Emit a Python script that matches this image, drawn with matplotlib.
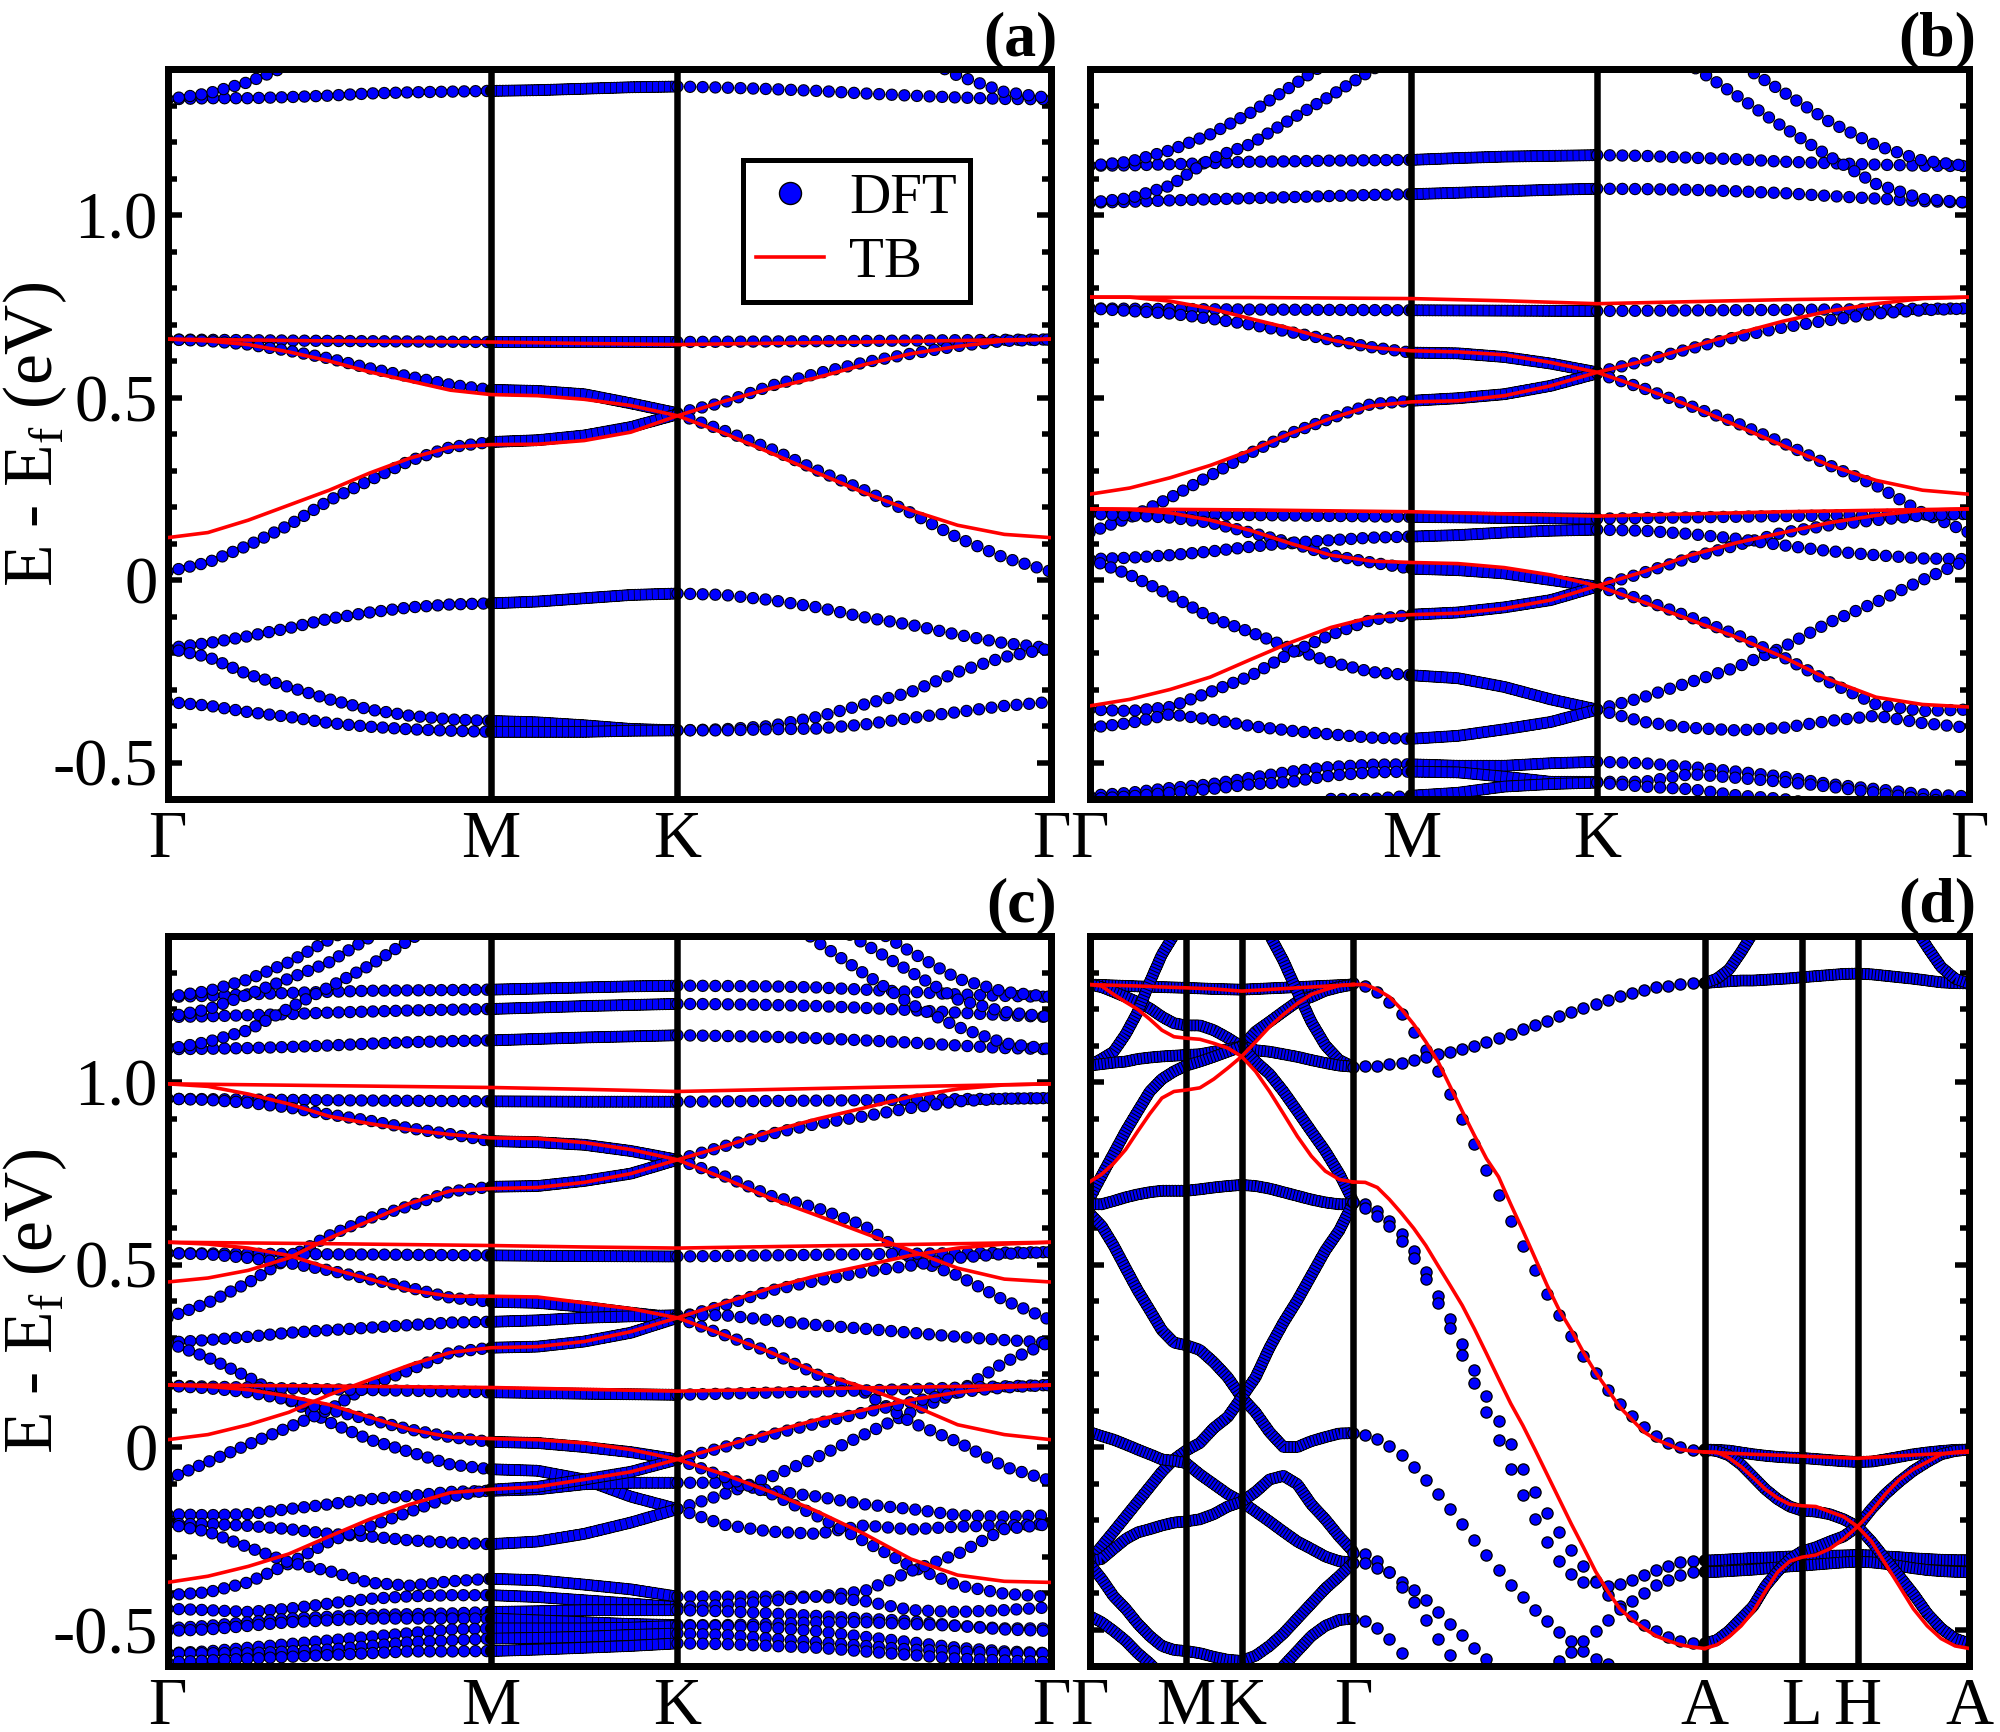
import numpy as np
import matplotlib
matplotlib.use("Agg")
import matplotlib.pyplot as plt
from matplotlib.lines import Line2D
from matplotlib.ticker import MultipleLocator, FixedLocator, FixedFormatter

plt.rcParams['font.family'] = ['Liberation Serif', 'DejaVu Serif']
plt.rcParams['mathtext.fontset'] = 'custom'
plt.rcParams['mathtext.rm'] = 'Liberation Serif'
plt.rcParams['lines.scale_dashes'] = False

# ---------- k-path ----------
K21 = np.concatenate([np.linspace(0, 1, 9), np.linspace(1, 1.577, 5)[1:], np.linspace(1.577, 2.732, 9)[1:]])
FLAT = [0, 4, 8, 10, 12, 16, 20]
L3 = [0, 1, 2, 3, 4, 5]
HEX_TICKS = [0, 1, 1.577, 2.732]
HEX_LABELS = ['Γ', 'M', 'K', 'Γ']
D_TICKS = [0, 1, 1.577, 2.732, 6.376, 7.383, 7.96, 9.115]
D_LABELS = ['Γ', 'M', 'K', 'Γ', 'A', 'L', 'H', 'A']
YT = [-0.5, 0, 0.5, 1.0]
YT_LABELS = ['-0.5', '0', '0.5', '1.0']

# ---------- panel (a) ----------
a_dft = [
 [1.317,1.32,1.32,1.323,1.327,1.333,1.336,1.338,1.34,1.342,1.346,1.35,1.352,1.349,1.345,1.34,1.333,1.327,1.322,1.318,1.317],
 ([0,1,2,3,4],[1.317,1.333,1.364,1.41,1.48]),
 ([17,18,19,20],[1.446,1.382,1.337,1.32]),
 (FLAT,[.659,.655,.652,.652,.652,.655,.659]),
 [.659,.655,.645,.628,.607,.58,.557,.535,.521,.518,.509,.484,.457,.487,.532,.566,.596,.62,.641,.655,.659],
 [.023,.048,.095,.15,.218,.273,.327,.364,.378,.383,.396,.419,.454,.409,.359,.30,.246,.184,.116,.061,.023],
 [-.187,-.173,-.154,-.132,-.106,-.089,-.075,-.067,-.064,-.059,-.05,-.041,-.037,-.041,-.055,-.075,-.102,-.123,-.15,-.173,-.187],
 [-.187,-.211,-.259,-.293,-.327,-.355,-.372,-.382,-.386,-.39,-.398,-.408,-.412,-.409,-.40,-.375,-.341,-.307,-.252,-.211,-.187],
 [-.334,-.344,-.362,-.375,-.392,-.402,-.409,-.413,-.416,-.416,-.416,-.413,-.412,-.412,-.409,-.407,-.396,-.378,-.362,-.345,-.334],
]
a_tb = [
 (FLAT,[.66,.655,.652,.648,.645,.652,.66]),
 [.66,.655,.645,.625,.60,.57,.545,.52,.508,.505,.495,.478,.45,.49,.525,.555,.59,.62,.64,.655,.66],
 [.116,.13,.164,.205,.246,.293,.334,.364,.371,.372,.382,.405,.45,.402,.348,.293,.239,.191,.15,.125,.116],
]

# ---------- panel (b) ----------
b_dft = [
 [1.135,1.136,1.139,1.142,1.146,1.147,1.149,1.15,1.151,1.156,1.16,1.162,1.164,1.162,1.157,1.153,1.146,1.142,1.138,1.135,1.134],
 [1.034,1.036,1.04,1.043,1.046,1.049,1.052,1.055,1.057,1.061,1.065,1.069,1.072,1.071,1.069,1.065,1.06,1.052,1.045,1.038,1.034],
 ([0,1,2,3,4,5,6],[1.135,1.146,1.177,1.221,1.28,1.351,1.426]),
 ([0,1,2,3,4,5,6,7,8],[1.034,1.046,1.08,1.153,1.194,1.262,1.327,1.396,1.467]),
 ([13,14,15,16,17,18,19,20],[1.5,1.412,1.327,1.241,1.16,1.085,1.044,1.034]),
 ([14,15,16,17,18,19,20],[1.5,1.419,1.337,1.255,1.191,1.149,1.134]),
 (FLAT,[.744,.741,.739,.738,.737,.74,.744]),
 [.744,.737,.73,.716,.70,.679,.658,.638,.623,.621,.611,.593,.569,.60,.634,.666,.692,.712,.73,.739,.744],
 [.13,.171,.225,.286,.348,.402,.443,.482,.491,.498,.509,.532,.566,.525,.477,.43,.375,.314,.259,.184,.13],
 (FLAT,[.181,.178,.173,.17,.168,.175,.181]),
 [.181,.177,.171,.157,.13,.102,.068,.048,.031,.027,.018,0,-.018,.02,.061,.095,.13,.15,.164,.177,.181],
 [.057,.061,.068,.078,.091,.102,.109,.116,.119,.123,.13,.135,.138,.135,.126,.113,.095,.079,.068,.059,.057],
 [.057,.014,-.041,-.102,-.143,-.187,-.225,-.252,-.261,-.269,-.293,-.327,-.355,-.321,-.28,-.239,-.184,-.116,-.061,0,.057],
 [-.355,-.359,-.348,-.307,-.263,-.2,-.15,-.109,-.095,-.089,-.075,-.055,-.018,-.055,-.102,-.15,-.211,-.28,-.341,-.359,-.355],
 [-.405,-.392,-.368,-.382,-.40,-.413,-.423,-.432,-.435,-.427,-.409,-.389,-.355,-.389,-.405,-.412,-.405,-.386,-.372,-.392,-.405],
 [-.591,-.583,-.57,-.56,-.542,-.525,-.512,-.506,-.505,-.509,-.509,-.502,-.498,-.502,-.512,-.525,-.539,-.559,-.573,-.587,-.593],
 [-.6,-.593,-.583,-.573,-.56,-.553,-.536,-.527,-.525,-.527,-.539,-.553,-.553,-.553,-.532,-.542,-.553,-.566,-.583,-.6,-.61],
 ([6,7,8,9,10,11,12,13,14,15,16,17,18],[-.6,-.6,-.591,-.583,-.566,-.559,-.555,-.566,-.573,-.59,-.6,-.62,-.64]),
]
b_tb = [
 (FLAT,[.775,.774,.771,.765,.757,.768,.775]),
 [.775,.775,.764,.744,.716,.689,.658,.637,.628,.625,.617,.596,.569,.60,.638,.675,.709,.737,.757,.771,.775],
 [.235,.252,.28,.314,.355,.402,.443,.477,.488,.491,.505,.532,.569,.525,.477,.423,.368,.314,.273,.246,.235],
 (FLAT,[.195,.192,.187,.181,.175,.187,.195]),
 [.195,.193,.184,.164,.136,.10,.068,.052,.048,.045,.034,.014,-.016,.023,.068,.102,.13,.157,.177,.191,.195],
 [-.345,-.327,-.30,-.266,-.218,-.171,-.13,-.102,-.095,-.091,-.078,-.055,-.016,-.061,-.109,-.157,-.211,-.273,-.321,-.341,-.348],
]

# ---------- panel (c) ----------
c_dft = [
 [1.233,1.236,1.24,1.244,1.247,1.25,1.251,1.252,1.253,1.256,1.259,1.262,1.264,1.263,1.262,1.259,1.253,1.247,1.24,1.236,1.233],
 [1.178,1.18,1.183,1.186,1.19,1.193,1.196,1.198,1.2,1.204,1.208,1.211,1.214,1.213,1.211,1.208,1.203,1.197,1.19,1.183,1.178],
 [1.09,1.091,1.093,1.096,1.1,1.105,1.109,1.112,1.114,1.118,1.122,1.125,1.128,1.126,1.124,1.12,1.114,1.108,1.1,1.093,1.09],
 (L3,[1.233,1.249,1.281,1.328,1.39,1.45]),
 ([0,1,2,3,4,5,6],[1.178,1.199,1.24,1.283,1.328,1.396,1.46]),
 ([0,1,2,3,4,5,6,7],[1.09,1.11,1.142,1.202,1.26,1.319,1.39,1.46]),
 ([14,15,16,17,18,19,20],[1.485,1.383,1.297,1.213,1.151,1.106,1.09]),
 ([15,16,17,18,19,20],[1.458,1.379,1.301,1.226,1.192,1.178]),
 ([16,17,18,19,20],[1.437,1.356,1.283,1.247,1.233]),
 (FLAT,[.954,.95,.947,.946,.946,.95,.956]),
 [.954,.951,.943,.93,.911,.894,.873,.857,.838,.835,.828,.811,.787,.824,.858,.886,.906,.929,.947,.954,.956],
 [.354,.395,.45,.518,.579,.627,.661,.70,.713,.715,.729,.749,.787,.742,.688,.654,.606,.518,.47,.402,.347],
 (FLAT,[.531,.528,.525,.523,.522,.528,.534]),
 [.531,.528,.518,.504,.484,.46,.436,.409,.398,.395,.384,.368,.354,.388,.429,.456,.48,.497,.518,.529,.534],
 [.286,.293,.302,.313,.32,.327,.334,.341,.343,.347,.354,.358,.361,.361,.347,.334,.324,.313,.302,.293,.286],
 [.286,.245,.191,.129,.068,.02,-.014,-.048,-.061,-.065,-.089,-.136,-.17,-.129,-.082,-.027,.034,.095,.15,.232,.289],
 [-.089,-.041,.007,.054,.102,.17,.211,.259,.272,.275,.289,.313,.354,.307,.259,.198,.15,.068,.014,-.054,-.093],
 (FLAT,[.168,.158,.15,.146,.143,.155,.17]),
 [.168,.161,.15,.129,.102,.075,.048,.027,.014,.011,0,-.014,-.034,0,.034,.065,.095,.123,.15,.163,.17],
 [-.184,-.187,-.184,-.17,-.157,-.143,-.134,-.123,-.12,-.116,-.102,-.098,-.098,-.098,-.12,-.136,-.157,-.17,-.187,-.191,-.187],
 [-.211,-.211,-.216,-.225,-.238,-.245,-.256,-.262,-.266,-.259,-.238,-.207,-.17,-.213,-.232,-.238,-.215,-.226,-.218,-.215,-.211],
 [-.406,-.398,-.371,-.32,-.259,-.218,-.177,-.136,-.117,-.109,-.089,-.068,-.034,-.082,-.128,-.19,-.258,-.327,-.379,-.402,-.411],
 [-.211,-.232,-.275,-.316,-.34,-.372,-.38,-.368,-.361,-.365,-.377,-.39,-.41,-.41,-.41,-.41,-.395,-.34,-.293,-.225,-.211],
 [-.443,-.447,-.452,-.443,-.429,-.416,-.409,-.406,-.406,-.411,-.42,-.429,-.439,-.433,-.422,-.409,-.422,-.447,-.452,-.447,-.439],
 [-.497,-.49,-.48,-.47,-.465,-.46,-.458,-.456,-.452,-.45,-.447,-.447,-.447,-.45,-.456,-.463,-.47,-.477,-.49,-.497,-.497],
 [-.504,-.5,-.49,-.48,-.475,-.47,-.47,-.47,-.47,-.475,-.48,-.485,-.488,-.488,-.485,-.48,-.48,-.485,-.49,-.5,-.504],
 [-.565,-.56,-.55,-.54,-.53,-.52,-.51,-.5,-.497,-.497,-.497,-.495,-.49,-.49,-.495,-.505,-.52,-.535,-.55,-.56,-.565],
 [-.565,-.565,-.565,-.56,-.555,-.545,-.535,-.53,-.525,-.523,-.52,-.515,-.511,-.515,-.525,-.535,-.545,-.555,-.56,-.565,-.565],
 [-.59,-.585,-.58,-.575,-.57,-.565,-.56,-.56,-.559,-.555,-.55,-.545,-.538,-.54,-.545,-.55,-.56,-.57,-.58,-.585,-.59],
]
c_tb = [
 (FLAT,[.995,.99,.985,.98,.974,.985,.995]),
 [.995,.988,.967,.94,.906,.886,.869,.856,.847,.845,.834,.815,.787,.824,.865,.899,.929,.96,.981,.992,.995],
 [.452,.463,.484,.518,.572,.62,.668,.702,.708,.711,.725,.749,.787,.736,.681,.634,.586,.538,.49,.46,.452],
 (FLAT,[.561,.557,.552,.548,.545,.553,.561]),
 [.561,.556,.545,.525,.49,.46,.429,.413,.413,.411,.395,.379,.354,.395,.436,.47,.497,.525,.545,.556,.561],
 (FLAT,[.17,.167,.163,.158,.153,.162,.17]),
 [.17,.166,.157,.139,.116,.082,.048,.027,.023,.02,.011,-.007,-.034,.003,.041,.075,.102,.129,.15,.163,.17],
 [.02,.034,.061,.095,.143,.184,.225,.259,.272,.275,.289,.316,.354,.307,.259,.204,.163,.116,.061,.034,.02],
 [-.371,-.354,-.327,-.293,-.245,-.198,-.157,-.125,-.116,-.109,-.089,-.068,-.034,-.075,-.123,-.177,-.238,-.307,-.351,-.368,-.371],
]

# ---------- panel (d): Γ-M-K-Γ ----------
d1_dft = [
 (FLAT,[1.267,1.262,1.258,1.255,1.253,1.26,1.267]),
 [1.267,1.26,1.247,1.233,1.219,1.202,1.179,1.161,1.155,1.155,1.142,1.121,1.097,1.138,1.165,1.193,1.22,1.233,1.25,1.26,1.267],
 ([0,1,2,3,4,5,6,7,8],[1.045,1.063,1.083,1.131,1.192,1.274,1.349,1.403,1.471]),
 ([13,14,15,16,17,18,19,20],[1.471,1.403,1.332,1.247,1.165,1.101,1.06,1.042]),
 [1.045,1.049,1.053,1.056,1.063,1.067,1.07,1.072,1.074,1.076,1.083,1.09,1.097,1.087,1.083,1.076,1.069,1.06,1.052,1.045,1.042],
 [.681,.743,.804,.865,.92,.974,1.008,1.029,1.045,1.056,1.069,1.083,1.097,1.056,1.022,.974,.92,.865,.811,.749,.674],
 [.665,.665,.674,.684,.692,.698,.702,.702,.702,.706,.711,.715,.718,.715,.708,.698,.688,.678,.67,.665,.665],
 [.64,.606,.552,.49,.429,.375,.32,.286,.279,.266,.232,.191,.136,.095,.041,0,0,.016,.027,.037,.038],
 [-.313,-.272,-.232,-.191,-.15,-.109,-.068,-.034,-.01,.011,.052,.082,.136,.191,.272,.341,.402,.47,.538,.593,.668],
 [.041,.03,.02,.007,-.007,-.02,-.034,-.038,-.044,-.075,-.102,-.129,-.15,-.177,-.204,-.232,-.259,-.279,-.3,-.313,-.317],
 [-.313,-.307,-.279,-.252,-.234,-.225,-.215,-.207,-.204,-.198,-.184,-.163,-.15,-.123,-.089,-.079,-.102,-.157,-.198,-.245,-.286],
 [-.32,-.361,-.409,-.443,-.484,-.518,-.545,-.556,-.559,-.565,-.575,-.583,-.586,-.572,-.545,-.511,-.47,-.429,-.388,-.354,-.317],
 ([0,1,2,3,4,5,6],[-.463,-.48,-.504,-.531,-.565,-.593,-.627]),
 ([15,16,17,18,19,20],[-.6,-.559,-.518,-.49,-.474,-.47]),
]
d1_tb = [
 (FLAT,[1.267,1.263,1.258,1.255,1.249,1.258,1.267]),
 [1.267,1.263,1.24,1.219,1.199,1.172,1.142,1.124,1.12,1.117,1.106,1.093,1.07,1.029,.974,.913,.851,.797,.756,.733,.726],
 [.726,.747,.777,.815,.865,.913,.956,.974,.978,.984,1.008,1.038,1.07,1.11,1.151,1.185,1.215,1.24,1.253,1.264,1.267],
]

# ---------- panel (d): Γ-A, sampled dots (index = k-point number along the path) ----------
d2_band1 = [1.27,1.264,1.247,1.219,1.185,1.138,1.087,1.029,.967,.899,.831,.76,.691,.62,.552,.484,.42,.361,.304,.249,.202,.157,.119,.086,.054,.03,.011,0,-.007,-.01]
d2_band2 = [1.042,1.045,1.045,1.049,1.053,1.059,1.069,1.076,1.081,1.09,1.099,1.11,1.12,1.132,1.144,1.155,1.168,1.181,1.192,1.203,1.215,1.226,1.236,1.244,1.252,1.259,1.264,1.268,1.271,1.272]
d2_band3 = [.67,.665,.647,.62,.583,.538,.479,.415,.351,.283,.211,.14,.071,.007,-.059,-.123,-.18,-.232,-.283,-.327,-.368,-.406,-.436,-.463,-.488,-.504,-.52,-.531,-.538,-.54]
d2_band4 = [.67,.654,.634,.606,.565,.518,.46,.395,.327,.252,.174,.095,.02,-.059,-.132,-.198,-.259,-.311,-.347,-.371,-.371,-.381,-.375,-.365,-.351,-.338,-.327,-.316,-.311,-.31]
d2_band5 = [.038,.034,.023,.004,-.023,-.054,-.091,-.129,-.17,-.211,-.255,-.297,-.338,-.377,-.411,-.446,-.477,-.507,-.531,-.559,-.582,-.595]
d2_band6 = [-.62,-.586,-.561,-.531,-.504,-.474,-.443,-.422,-.399,-.379,-.365,-.351,-.343,-.34]
d2_band6_start = 16
d2_band7 = [-.29,-.293,-.313,-.343,-.371,-.391,-.418,-.452,-.484,-.515,-.552,-.582,-.61]
d2_band8 = [-.317,-.317,-.331,-.343,-.384,-.425,-.473,-.525,-.569,-.61]
d2_band9 = [-.47,-.477,-.495,-.525,-.565,-.61]
d2_tb1 = [1.267,1.267,1.253,1.233,1.199,1.158,1.11,1.056,.988,.92,.854,.79,.74,.665,.593,.518,.443,.375,.32,.259,.204,.157,.109,.075,.041,.02,.007,-.007,-.011,-.014]
d2_tb2 = [.726,.725,.711,.678,.64,.599,.552,.497,.443,.388,.324,.256,.187,.119,.059,-.007,-.075,-.143,-.211,-.275,-.341,-.395,-.443,-.473,-.497,-.518,-.531,-.542,-.548,-.552]

# ---------- panel (d): A-L-H-A ----------
d3_dft = [
 [1.271,1.274,1.276,1.278,1.278,1.28,1.282,1.284,1.287,1.29,1.293,1.296,1.297,1.295,1.291,1.287,1.283,1.278,1.273,1.271,1.27],
 ([0,1,2,3,4],[1.271,1.283,1.308,1.356,1.41]),
 ([16,17,18,19,20],[1.43,1.37,1.315,1.283,1.27]),
 [-.007,-.008,-.01,-.015,-.02,-.024,-.027,-.029,-.03,-.033,-.036,-.039,-.041,-.04,-.034,-.027,-.02,-.015,-.011,-.008,-.007],
 [-.007,-.011,-.023,-.048,-.082,-.116,-.143,-.163,-.174,-.177,-.184,-.198,-.218,-.17,-.129,-.095,-.065,-.041,-.02,-.011,-.007],
 [-.311,-.31,-.308,-.306,-.304,-.303,-.302,-.3,-.3,-.3,-.298,-.297,-.296,-.297,-.3,-.302,-.305,-.307,-.309,-.31,-.311],
 [-.343,-.342,-.34,-.338,-.336,-.333,-.33,-.327,-.325,-.322,-.319,-.316,-.314,-.316,-.32,-.326,-.332,-.337,-.34,-.342,-.343],
 [-.538,-.529,-.504,-.47,-.436,-.381,-.341,-.307,-.286,-.275,-.259,-.245,-.218,-.259,-.307,-.354,-.402,-.456,-.497,-.525,-.538],
]
d3_tb = [
 (FLAT,[-.014,-.02,-.025,-.028,-.031,-.022,-.014]),
 [-.014,-.014,-.03,-.054,-.084,-.116,-.14,-.157,-.161,-.163,-.177,-.191,-.218,-.177,-.129,-.089,-.061,-.041,-.02,-.014,-.011],
 [-.552,-.542,-.52,-.49,-.45,-.395,-.343,-.313,-.302,-.296,-.279,-.252,-.218,-.259,-.32,-.381,-.443,-.49,-.525,-.545,-.552],
]

# ---------- styles (px at dpi 100) ----------
W, H = 2000, 1732
PX = 72 / 100
BLUE = '#0000ff'
RED = '#ff0000'

def parts(b, grid):
    if isinstance(b, tuple):
        idx, vals = b
        return np.array(idx), grid[list(idx)], np.array(vals, float)
    return np.arange(len(b)), grid, np.array(b, float)

def dots(ax, x, y, spacing):
    if len(x) < 2:
        return
    for lw, col in ((12.5, 'k'), (10.3, BLUE)):
        ax.plot(x, y, color=col, lw=lw * PX, ls=(0, (0.01, spacing * PX)),
                dash_capstyle='round', zorder=2)

def packed(ax, x, y, on, off):
    if len(x) < 2:
        return
    ax.plot(x, y, color='k', lw=12 * PX, ls=(0, (0.01, 3 * PX)), dash_capstyle='round', zorder=2)
    ax.plot(x, y, color=BLUE, lw=9.8 * PX, ls=(0, (on * PX, off * PX)), dash_capstyle='butt', zorder=2)

def draw_hex(ax, bands, grid, sp):
    for b in bands:
        i, x, y = parts(b, grid)
        m = i <= 8
        dots(ax, x[m], y[m], sp[0])
        m = (i >= 8) & (i <= 12)
        packed(ax, x[m], y[m], sp[1], 0.7)
        m = i >= 12
        dots(ax, x[m], y[m], sp[2])

def draw_packed(ax, bands, grid):
    for b in bands:
        i, x, y = parts(b, grid)
        packed(ax, x, y, 2.3, 1.0)

def draw_tb(ax, bands, grid):
    for b in bands:
        _, x, y = parts(b, grid)
        ax.plot(x, y, color=RED, lw=3.6 * PX, zorder=4, solid_joinstyle='round')

def make_ax(l, t, r, b, xmax, ticks, labels, ylab):
    ax = fig.add_axes([l / W, 1 - b / H, (r - l) / W, (b - t) / H])
    ax.set_xlim(0, xmax)
    ax.set_ylim(-0.6, 1.4)
    for s in ax.spines.values():
        s.set_linewidth(7 * PX)
    for t_ in ticks[1:-1]:
        ax.axvline(t_, color='k', lw=6.5 * PX, zorder=3)
    ax.xaxis.set_major_locator(FixedLocator(ticks))
    ax.xaxis.set_major_formatter(FixedFormatter(labels))
    ax.tick_params(axis='x', which='major', length=0, pad=8, labelsize=48)
    ax.yaxis.set_major_locator(FixedLocator(YT))
    ax.yaxis.set_minor_locator(MultipleLocator(0.1))
    ax.tick_params(axis='y', which='major', direction='in', left=True, right=True,
                   length=14 * PX, width=5.5 * PX, pad=7, labelsize=48, labelleft=ylab)
    ax.tick_params(axis='y', which='minor', direction='in', left=True, right=True,
                   length=9 * PX, width=5.5 * PX)
    if ylab:
        ax.yaxis.set_major_formatter(FixedFormatter(YT_LABELS))
        ax.set_ylabel('E - E$_{\\mathrm{f}}$ (eV)', fontsize=50)
        ax.yaxis.set_label_coords(-0.112, 0.5)
    return ax

fig = plt.figure(figsize=(W / 100, H / 100), dpi=100)
T1, B1, T2, B2 = 69, 799, 936, 1666
L1, R1, L2, R2 = 167.5, 1051, 1089.5, 1969

axa = make_ax(L1, T1, R1, B1, 2.732, HEX_TICKS, HEX_LABELS, True)
axb = make_ax(L2, T1, R2, B1, 2.732, HEX_TICKS, HEX_LABELS, False)
axc = make_ax(L1, T2, R1, B2, 2.732, HEX_TICKS, HEX_LABELS, True)
axd = make_ax(L2, T2, R2, B2, 9.115, D_TICKS, D_LABELS, False)

SP = (11.4, 5.3, 12.6)
for ax, dft, tb in ((axa, a_dft, a_tb), (axb, b_dft, b_tb), (axc, c_dft, c_tb)):
    draw_hex(ax, dft, K21, SP)
    draw_tb(ax, tb, K21)

# panel d
draw_packed(axd, d1_dft, K21)
draw_tb(axd, d1_tb, K21)

G = np.linspace(2.732, 6.376, 30)
for y, start in ((d2_band1, 0), (d2_band2, 0), (d2_band3, 0), (d2_band4, 0), (d2_band5, 0),
                 (d2_band6, d2_band6_start), (d2_band7, 0), (d2_band8, 0), (d2_band9, 0)):
    y = np.array(y)
    axd.plot(G[start:start + len(y)], y, ls='', marker='o', ms=11.2 * PX, mfc=BLUE, mec='k',
             mew=1.3 * PX, zorder=2)
axd.plot(G, d2_tb1, color=RED, lw=3.6 * PX, zorder=4)
axd.plot(G, d2_tb2, color=RED, lw=3.6 * PX, zorder=4)

K3 = np.concatenate([np.linspace(6.376, 7.383, 9), np.linspace(7.383, 7.96, 5)[1:], np.linspace(7.96, 9.115, 9)[1:]])
draw_packed(axd, d3_dft, K3)
draw_tb(axd, d3_tb, K3)

# legend
handles = [Line2D([], [], ls='', marker='o', ms=22 * PX, mfc=BLUE, mec='k', mew=1.4 * PX),
           Line2D([], [], color=RED, lw=3.6 * PX)]
leg = axa.legend(handles, ['DFT', 'TB'], loc='upper left', bbox_to_anchor=(0.651, 0.875),
                 fontsize=41, frameon=True, fancybox=False, framealpha=1, edgecolor='k',
                 borderpad=0.23, labelspacing=0.2, handlelength=1.2, handletextpad=0.44,
                 borderaxespad=0)
leg.get_frame().set_linewidth(5 * PX)
leg.set_zorder(6)

# panel letters
for s, x, y in (('(a)', 1057, 55), ('(b)', 1976, 55), ('(c)', 1057, 921), ('(d)', 1976, 921)):
    fig.text(x / W, 1 - y / H, s, ha='right', va='baseline', fontsize=46, fontweight='bold')

fig.savefig('out.png', dpi=100, facecolor='white')
